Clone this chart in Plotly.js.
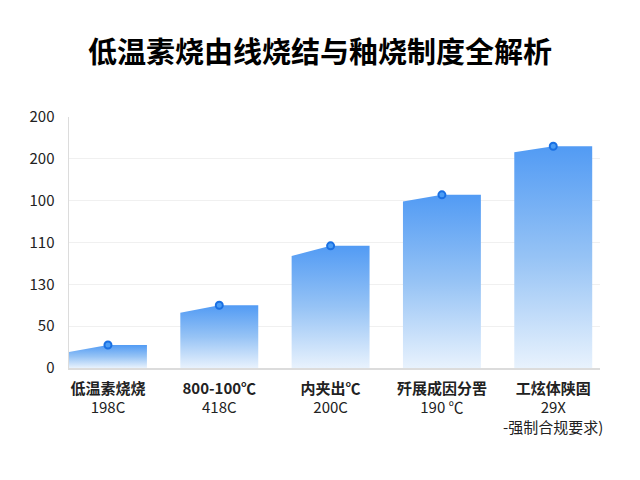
<!DOCTYPE html>
<html>
<head>
<meta charset="utf-8">
<script src="https://cdn.plot.ly/plotly-3.0.1.min.js"></script>
<style>html,body{margin:0;padding:0;background:#fff;}#chart{width:640px;height:480px;}</style>
</head>
<body>
<div id="chart"></div>
<script>
// ---- data ----
const categories = ["低温素烧烧", "800-100℃", "内夹出℃", "歼展成因分罟", "工炫体陕固"];
const subLabels = ["198C", "418C", "200C", "190 ℃", "29X<br>-强制合规要求)"];
const values = [27.5, 75, 146, 207, 265];        // flat top of each bar (marker)
const startValues = [19, 66, 134, 199, 258];     // left edge height of each bar
const yTickVals = [0, 50, 100, 150, 200, 250, 300];
const yTickText = ["0", "50", "130", "110", "100", "200", "200"];
const titleText = "低温素烧由线烧结与釉烧制度全解析";

const halfW = 0.35;
const traces = [];
categories.forEach((c, i) => {
  traces.push({
    type: "scatter", mode: "lines",
    x: [i - halfW, i - halfW, i, i + halfW, i + halfW, i - halfW],
    y: [0, startValues[i], values[i], values[i], 0, 0],
    fill: "toself",
    line: {width: 0, color: "rgba(0,0,0,0)"},
    fillgradient: {
      type: "vertical",
      start: 0, stop: values[i],
      colorscale: [[0, "rgba(232,242,253,1)"], [0.5, "rgba(150,195,245,1)"], [1, "rgba(82,155,244,1)"]]
    },
    hoverinfo: "skip", showlegend: false
  });
});
traces.push({
  type: "scatter", mode: "markers",
  x: categories.map((c, i) => i),
  y: values,
  marker: {size: 7, color: "#4a9cf5", line: {width: 2, color: "#1a70e3"}},
  showlegend: false
});

const fontFam = "'Noto Sans CJK SC', 'Noto Sans', sans-serif";
const layout = {
  width: 640, height: 480,
  margin: {l: 69, r: 40, t: 117, b: 112},
  paper_bgcolor: "#ffffff", plot_bgcolor: "#ffffff",
  title: {
    text: "<b>" + titleText + "</b>",
    font: {family: fontFam, size: 29, color: "#000"},
    x: 0.5, xanchor: "center", y: 1 - 53 / 480, yanchor: "middle", yref: "container"
  },
  xaxis: {
    range: [-0.35, 4.42],
    tickvals: categories.map((c, i) => i),
    ticktext: categories.map((c, i) => "<b>" + c + "</b><br>" + subLabels[i]),
    tickfont: {family: fontFam, size: 15, color: "#222"},
    showgrid: false, zeroline: false,
    showline: true, linecolor: "#dcdcdc", linewidth: 1.5,
    ticks: "outside", ticklen: 6, tickcolor: "rgba(0,0,0,0)"
  },
  yaxis: {
    range: [0, 300],
    tickvals: yTickVals, ticktext: yTickText,
    tickfont: {family: fontFam, size: 15, color: "#222"},
    showgrid: true, gridcolor: "#f0f0f0", gridwidth: 1,
    zeroline: false,
    showline: true, linecolor: "#dcdcdc", linewidth: 1.5,
    ticks: "outside", ticklen: 10, tickcolor: "rgba(0,0,0,0)"
  }
};
Plotly.newPlot("chart", traces, layout, {displayModeBar: false, staticPlot: true});
</script>
</body>
</html>
